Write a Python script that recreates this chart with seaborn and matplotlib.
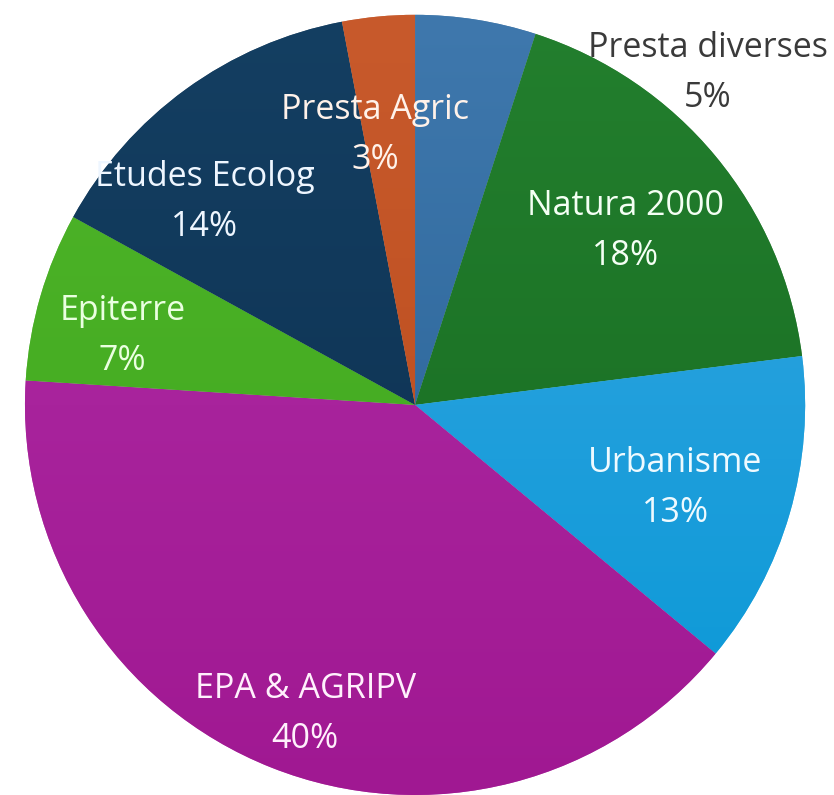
import numpy as np
import matplotlib
matplotlib.use("Agg")
import matplotlib.pyplot as plt
import matplotlib.colors as mcolors
import seaborn as sns

# slices, clockwise from 12 o'clock
categories = ["Presta diverses", "Natura 2000", "Urbanisme", "EPA & AGRIPV",
              "Epiterre", "Etudes Ecolog", "Presta Agric"]
shares = [5, 18, 13, 40, 7, 14, 3]

# top / bottom colours of each slice gradient
top_colors = ["#3f78ad", "#237f2e", "#3aa6e2", "#b02ea6", "#4fb52a", "#143f62", "#c85a2c"]
bot_colors = ["#255f92", "#16691f", "#0798d6", "#a01892", "#3ea61c", "#0c2e4e", "#b84a1a"]

# label placement: radius (in pie radii) and angle nudge in degrees
label_r = [1.135, 0.70, 0.70, 0.84, 0.77, 0.75, 0.70]
label_nudge = [-32.4, 0, -1.5, 2, 3, 10, 3]
label_color = ["#3a3a3a", "#f4fff4", "#eefaff", "#fff0fc", "#eaffe0", "#eef6ff", "#fff2ea"]

sns.set_theme(style="white")
plt.rcParams["font.family"] = ["Open Sans", "DejaVu Sans"]

fig = plt.figure(figsize=(8.34, 7.95), dpi=100)
ax = fig.add_axes([0, 0, 1, 1])

pal = sns.color_palette(bot_colors)
wedges, _ = ax.pie(shares, colors=pal, startangle=90, counterclock=False,
                   radius=1.0, wedgeprops=dict(linewidth=0.6, edgecolor="#ffffff55"))

# vertical gradient fill clipped to each wedge
for w, c1, c2 in zip(wedges, top_colors, bot_colors):
    cmap = mcolors.LinearSegmentedColormap.from_list("g", [c2, c1])
    grad = np.linspace(0, 1, 256).reshape(-1, 1)
    im = ax.imshow(grad, cmap=cmap, extent=(-1, 1, -1, 1), origin="lower",
                   aspect="auto", zorder=w.get_zorder() + 0.1)
    im.set_clip_path(w)

for w, name, s, r, dn, tc in zip(wedges, categories, shares, label_r, label_nudge, label_color):
    ang = np.deg2rad((w.theta1 + w.theta2) / 2 + dn)
    x, y = r * np.cos(ang), r * np.sin(ang)
    ax.text(x, y, f"{name}\n{s}%", ha="center", va="center", fontsize=24.5,
            color=tc, linespacing=1.62, zorder=5)

ax.set_xlim(-1.064, 1.074)
ax.set_ylim(-1.0, 1.038)
ax.set_aspect("auto")
ax.axis("off")

fig.savefig("out.png", dpi=100)
